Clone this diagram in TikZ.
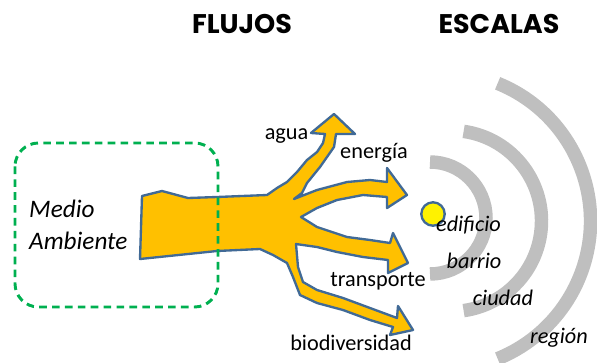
\documentclass[tikz,border=0pt]{standalone}
\usepackage{fontspec}
\setmainfont{Carlito}
\newfontfamily\titlefont{Poppins}
\definecolor{flowblue}{RGB}{65,106,150}
\definecolor{floworange}{RGB}{255,192,0}
\definecolor{framegreen}{RGB}{0,176,80}
\definecolor{arcgray}{RGB}{191,191,191}

\begin{document}
\begin{tikzpicture}[
  x=0.03cm, y=-0.03cm,
  flujo/.style = {draw=flowblue, fill=floworange, line width=2pt, line join=round},
  escala/.style = {draw=arcgray, line width=11.5pt},
  marco/.style = {draw=framegreen, line width=2.5pt,
                  dash pattern=on 6.5pt off 4.5pt, rounded corners=20pt},
  lbl/.style = {font=\fontsize{19}{22}\selectfont, anchor=base, inner sep=0pt},
  ilbl/.style = {lbl, font=\fontsize{19}{22}\selectfont\itshape},
  titulo/.style = {font=\titlefont\bfseries\fontsize{23}{26}\selectfont,
                   anchor=base, inner sep=0pt}
]
\useasboundingbox (0,0) rectangle (597,362);

% Titles
\node[titulo] (flujos) at (242,33) {FLUJOS};
\node[titulo] (escalas) at (499,33) {ESCALAS};

% Scales: arcs round the building
\coordinate (c1) at (430,218);
\coordinate (c2) at (451,221);
\coordinate (c3) at (442,221);
\draw[escala] (c1) ++(-90:56) arc[start angle=-90, end angle=90, radius=56];
\draw[escala] (c2) ++(-82:90.5) arc[start angle=-82, end angle=82, radius=90.5];
\draw[escala] (c3) ++(-68:148.5) arc[start angle=-68, end angle=68, radius=148.5];

% Flows out of the environment
\draw[flujo] (142,196) -- (162,191) -- (188,198) -- (217,197) -- (267,195)
  -- (277,188) -- (287,182) -- (297,172) -- (307,160) -- (317,152) -- (323,143) -- (325,134)
  -- (311,133) -- (334,114) -- (355,134) -- (336,134)
  -- (334,147) -- (320,167) -- (307,183) -- (302,193) -- (294,199)
  -- (317,190) -- (347,182) -- (370,180) -- (387,182)
  -- (387,168) -- (407,195) -- (387,208) -- (387,197)
  -- (363,195) -- (337,200) -- (317,208) -- (301,217)
  -- (317,227) -- (347,237) -- (370,240) -- (390,243)
  -- (393,233) -- (408,263) -- (388,273) -- (388,260)
  -- (363,257) -- (337,252) -- (317,247) -- (296,244)
  -- (298,267) -- (303,282) -- (317,290) -- (343,298) -- (370,308) -- (397,318)
  -- (398,306) -- (413,330) -- (390,335) -- (393,327)
  -- (370,320) -- (343,310) -- (317,303) -- (300,295) -- (293,277) -- (287,263)
  -- (273,255) -- (260,249) -- (217,251) -- (140,259) -- cycle;

% Environment frame
\draw[marco] (15,143) rectangle (218,307);
\node[font=\fontsize{21.5}{26}\selectfont\itshape, anchor=base west, inner sep=0pt]
  (medio) at (29,217) {Medio};
\node[font=\fontsize{21.5}{26}\selectfont\itshape, anchor=base west, inner sep=0pt]
  (ambiente) at (29,249) {Ambiente};

% Building
\node[circle, draw=flowblue, fill=yellow, line width=2pt, minimum size=20pt,
      inner sep=0pt] (edif) at (433,214) {};

% Flow labels
\node[lbl] (agua) at (286.5,139) {agua};
\node[lbl] (energia) at (374,158) {energía};
\node[lbl] (transporte) at (378,286) {transporte};
\node[lbl] (biodiversidad) at (351,350) {biodiversidad};

% Scale labels
\node[ilbl] (edificio) at (468.5,231) {edificio};
\node[ilbl] (barrio) at (474,268) {barrio};
\node[ilbl] (ciudad) at (503,305) {ciudad};
\node[ilbl] (region) at (559,343) {región};

\end{tikzpicture}
\end{document}
